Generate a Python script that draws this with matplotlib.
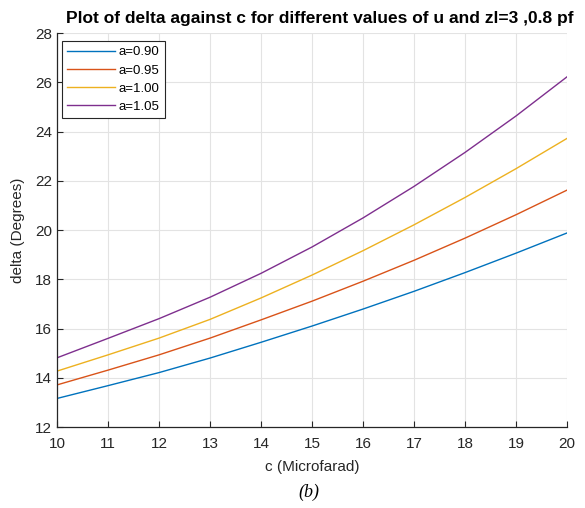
import matplotlib.pyplot as plt

# delta (degrees) versus capacitance for each value of a
c = [10, 11, 12, 13, 14, 15, 16, 17, 18, 19, 20]
delta_090 = [13.16, 13.68, 14.21, 14.80, 15.44, 16.10, 16.79, 17.51, 18.27, 19.06, 19.88]
delta_095 = [13.71, 14.31, 14.93, 15.61, 16.35, 17.11, 17.92, 18.77, 19.67, 20.62, 21.62]
delta_100 = [14.27, 14.93, 15.61, 16.37, 17.24, 18.17, 19.16, 20.21, 21.32, 22.49, 23.72]
delta_105 = [14.81, 15.60, 16.40, 17.27, 18.24, 19.31, 20.49, 21.77, 23.15, 24.63, 26.22]
labels = ['a=0.90', 'a=0.95', 'a=1.00', 'a=1.05']
colors = ['#0072BD', '#D95319', '#EDB120', '#7E2F8E']

plt.rcParams['font.family'] = ['Liberation Sans', 'DejaVu Sans']

fig = plt.figure(figsize=(5.85, 5.08), dpi=100)
ax = fig.add_axes([0.0974, 0.1594, 0.8718, 0.7756])

for ys, lab, col in zip([delta_090, delta_095, delta_100, delta_105], labels, colors):
    ax.plot(c, ys, color=col, lw=1.0, label=lab)

ax.set_xlim(10, 20)
ax.set_ylim(12, 28)
ax.set_xticks(range(10, 21))
ax.set_yticks(range(12, 29, 2))
ax.grid(True, color='#e3e3e3', lw=0.8)
ax.set_axisbelow(True)
for s in ['top', 'right']:
    ax.spines[s].set_visible(False)
for s in ['left', 'bottom']:
    ax.spines[s].set_color('#262626')
    ax.spines[s].set_linewidth(0.9)
ax.tick_params(direction='in', length=4, width=0.8, color='#262626',
               labelsize=11, labelcolor='#262626')
ax.tick_params(axis='x', pad=7)

title = ax.set_title('Plot of delta against c for different values of u and zl=3 ,0.8 pf',
                     fontsize=12.5, fontweight='bold', pad=7)
title.set_x(0.515)
ax.set_xlabel('c (Microfarad)', fontsize=11, color='#262626', labelpad=7)
ax.set_ylabel('delta (Degrees)', fontsize=11, color='#262626', labelpad=7)

leg = ax.legend(loc='upper left', bbox_to_anchor=(0.01, 0.98), borderaxespad=0,
                fontsize=9.5, handlelength=3.6, handletextpad=0.3,
                labelspacing=0.45, fancybox=False, framealpha=1,
                edgecolor='#262626', borderpad=0.4)
leg.get_frame().set_linewidth(0.8)

fig.text(0.528, 0.022, '(b)', fontsize=13, style='italic',
         family=['Liberation Serif'], ha='center')

fig.savefig('out.png', dpi=100)
